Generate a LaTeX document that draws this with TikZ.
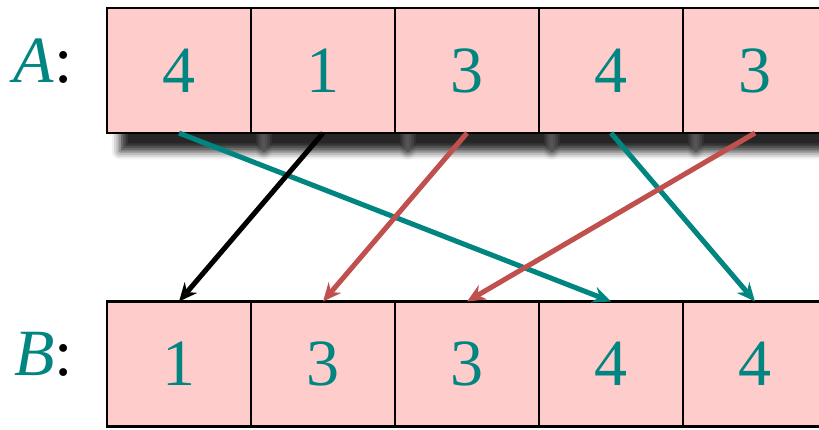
\documentclass[tikz,border=0pt]{standalone}
\usepackage{fontspec}
\setmainfont{Liberation Serif}
\usetikzlibrary{arrows.meta,positioning,shadows.blur}
\definecolor{cellpink}{RGB}{255,204,204}
\definecolor{numteal}{RGB}{0,133,128}
\definecolor{movered}{RGB}{192,80,77}

\begin{document}
\begin{tikzpicture}[>={Stealth[length=6.5pt,width=5.8pt]},
 cell/.style={rectangle,draw=black,line width=0.8pt,fill=cellpink,minimum width=1.8cm,minimum height=1.5625cm,inner sep=0pt,outer sep=0pt,text=numteal,font=\fontsize{23.5}{28}\selectfont},
 shd/.style={blur shadow={shadow xshift=0.16cm,shadow yshift=-0.23cm,shadow blur radius=0.1cm,shadow opacity=85}},
 mv/.style={->,line width=1.8pt},
 lbl/.style={font=\fontsize{23.5}{28}\selectfont,inner sep=0pt}]
\useasboundingbox (0,0) rectangle (10.2375,-5.3625);
% input row
\node[cell,shd] (a1) at (2.2375,-0.88125) {4};
\node[cell,shd,right=0pt of a1] (a2) {1};
\node[cell,shd,right=0pt of a2] (a3) {3};
\node[cell,shd,right=0pt of a3] (a4) {4};
\node[cell,shd,right=0pt of a4] (a5) {3};
% output row
\node[cell] (b1) at (2.2375,-4.55) {1};
\node[cell,right=0pt of b1] (b2) {3};
\node[cell,right=0pt of b2] (b3) {3};
\node[cell,right=0pt of b3] (b4) {4};
\node[cell,right=0pt of b4] (b5) {4};
\node[lbl,left=0.42cm of a1,yshift=0.12cm] (la) {\textcolor{numteal}{\textit{A}}:};
\node[lbl,left=0.42cm of b1,yshift=0.12cm] (lb) {\textcolor{numteal}{\textit{B}}:};
\draw[mv,draw=numteal] (a1.south) -- (b4.north);
\draw[mv,draw=black] (a2.south) -- (b1.north);
\draw[mv,draw=movered] (a3.south) -- (b2.north);
\draw[mv,draw=numteal] (a4.south) -- (b5.north);
\draw[mv,draw=movered] (a5.south) -- (b3.north);
\end{tikzpicture}
\end{document}
